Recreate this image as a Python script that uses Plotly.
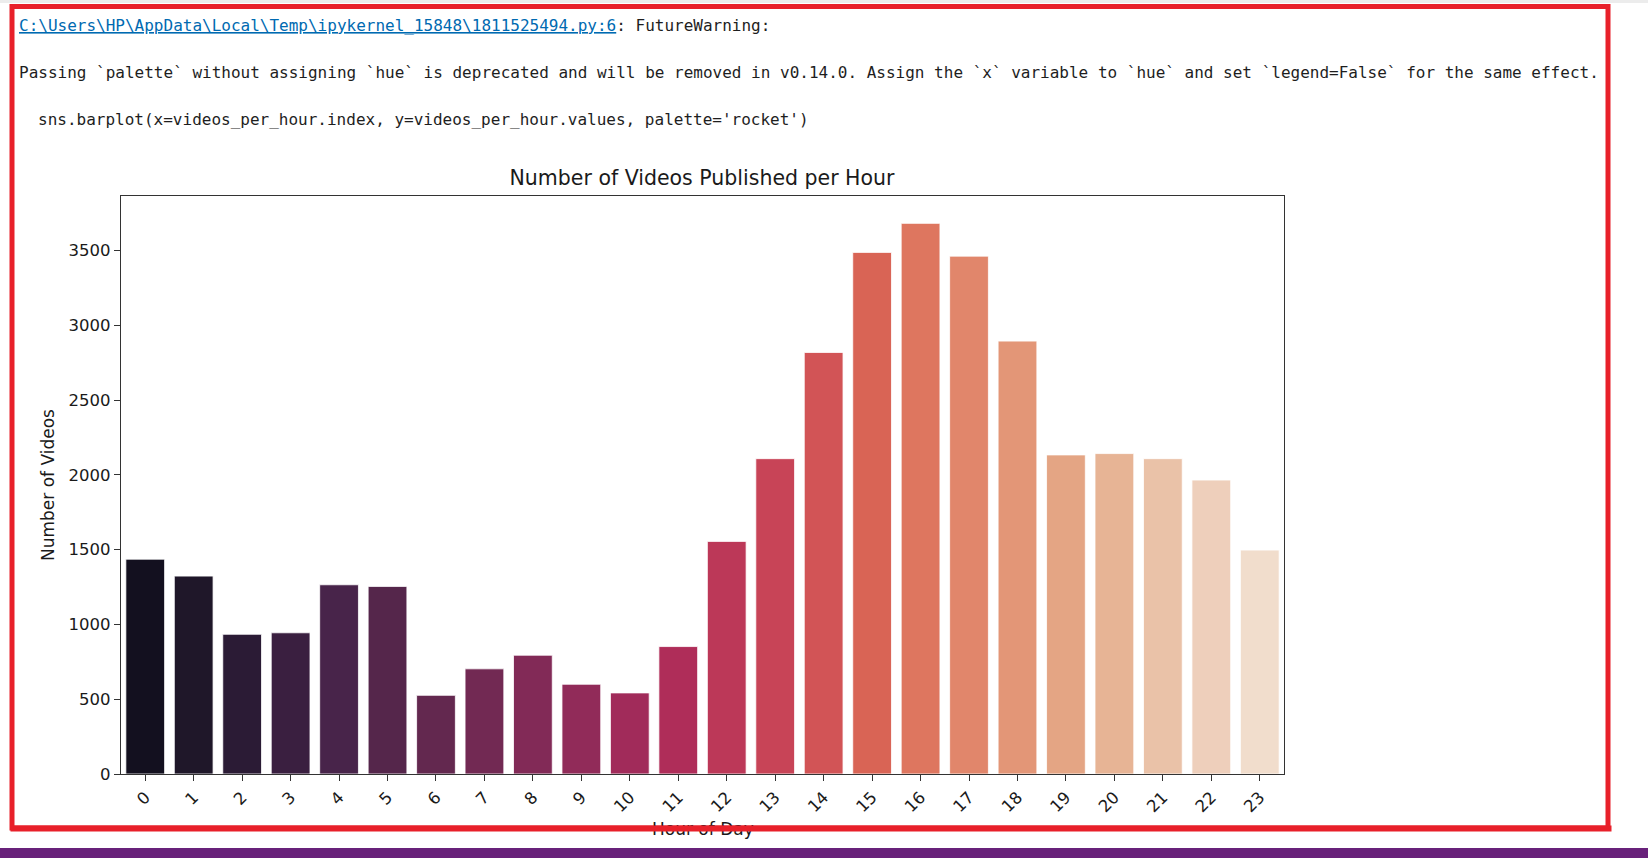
import plotly.graph_objects as go

# Data
hours = list(range(24))
videos = [1436, 1323, 934, 944, 1265, 1254, 526, 703, 794, 600, 542, 852,
          1555, 2108, 2818, 3487, 3681, 3462, 2894, 2133, 2142, 2108, 1965, 1497]
y_ticks = [0, 500, 1000, 1500, 2000, 2500, 3000, 3500]

# desaturated 'rocket' palette as seaborn draws it
rocket = ['#13101f', '#1f1729', '#2b1b35', '#3a1f40', '#48244a', '#55264b',
          '#63284f', '#722953', '#822a57', '#912b59', '#a12b5a', '#af2d59',
          '#bc3858', '#c84457', '#d25456', '#d96455', '#de765f', '#e1866b',
          '#e39677', '#e4a584', '#e7b495', '#eac2a8', '#eecfbb', '#f1ddcc']

W, H = 1648, 858
L, R, T, B = 121, 1284, 196, 774


def px(x):  # pixel -> paper x
    return (x - L) / (R - L)


def py(y):  # pixel -> paper y
    return (B - y) / (B - T)


fig = go.Figure(go.Bar(
    x=hours, y=videos,
    marker_color=rocket,
    marker_line_color='white', marker_line_width=0.8,
    width=0.8,
))

mono = 'DejaVu Sans Mono'
link = ('<span style="color:#006ab1;text-decoration:underline">'
        'C:\\Users\\HP\\AppData\\Local\\Temp\\ipykernel_15848\\1811525494.py:6</span>'
        ': FutureWarning:')
line2 = ('Passing `palette` without assigning `hue` is deprecated and will be removed in v0.14.0. '
         'Assign the `x` variable to `hue` and set `legend=False` for the same effect.')
line3 = "sns.barplot(x=videos_per_hour.index, y=videos_per_hour.values, palette='rocket')"

notes = [
    dict(text=link, x=px(18), y=py(26)),
    dict(text=line2, x=px(18), y=py(72)),
    dict(text=line3, x=px(37), y=py(120)),
]
annotations = [dict(xref='paper', yref='paper', xanchor='left', yanchor='middle',
                    showarrow=False, font=dict(family=mono, size=16, color='#1e1e1e'),
                    borderpad=0, **n) for n in notes]
# x axis title, then the red border edge that runs across it
annotations.append(dict(text='Hour of Day', xref='paper', yref='paper', x=0.5, y=py(829),
                        xanchor='center', yanchor='middle', showarrow=False,
                        font=dict(family='DejaVu Sans', size=17, color='#1a1a1a')))
annotations.append(dict(text=' ', xref='paper', yref='paper', x=px(9.5), y=py(828),
                        xanchor='left', yanchor='middle', showarrow=False,
                        width=1600, height=5, bgcolor='#e8202a', borderpad=0,
                        font=dict(size=2)))

fig.update_layout(
    width=W, height=H, autosize=False,
    margin=dict(l=L, r=W - R, t=T, b=H - B),
    paper_bgcolor='white', plot_bgcolor='white',
    showlegend=False,
    font=dict(family='DejaVu Sans', color='#1a1a1a'),
    title=dict(text='Number of Videos Published per Hour', x=px(702), xanchor='center',
               xref='paper', yref='container', y=(H - 178) / H, yanchor='middle',
               font=dict(size=20.5, color='#1a1a1a')),
    xaxis=dict(range=[-0.5, 23.5], tickmode='array', tickvals=hours,
               ticktext=[str(h) for h in hours], tickangle=-45,
               ticks='outside', ticklen=6, tickcolor='#333', tickfont=dict(size=16.5),
               showline=True, linecolor='#333', linewidth=1.3, mirror=True,
               showgrid=False, zeroline=False),
    yaxis=dict(range=[0, 3864], tickmode='array', tickvals=y_ticks,
               ticks='outside', ticklen=6, tickcolor='#333', tickfont=dict(size=16.5),
               showline=True, linecolor='#333', linewidth=1.3, mirror=True,
               showgrid=False, zeroline=False,
               title=dict(text='Number of Videos', font=dict(size=17), standoff=9)),
    annotations=annotations,
    shapes=[
        # thin grey strip at the very top of the page
        dict(type='rect', xref='paper', yref='paper', x0=px(0), x1=px(W), y0=py(0), y1=py(3),
             fillcolor='#ececec', line_width=0, layer='above'),
        # red highlight frame
        dict(type='rect', xref='paper', yref='paper', x0=px(12), x1=px(1608),
             y0=py(6.5), y1=py(828), line=dict(color='#e8202a', width=5),
             fillcolor='rgba(0,0,0,0)', layer='above'),
        # purple status bar at the bottom
        dict(type='rect', xref='paper', yref='paper', x0=px(0), x1=px(W), y0=py(848), y1=py(H),
             fillcolor='#68217a', line_width=0, layer='above'),
    ],
)

fig.write_html("out.html", config={'displayModeBar': False},
               post_script="document.body.style.margin='0';document.body.style.overflow='hidden';")
